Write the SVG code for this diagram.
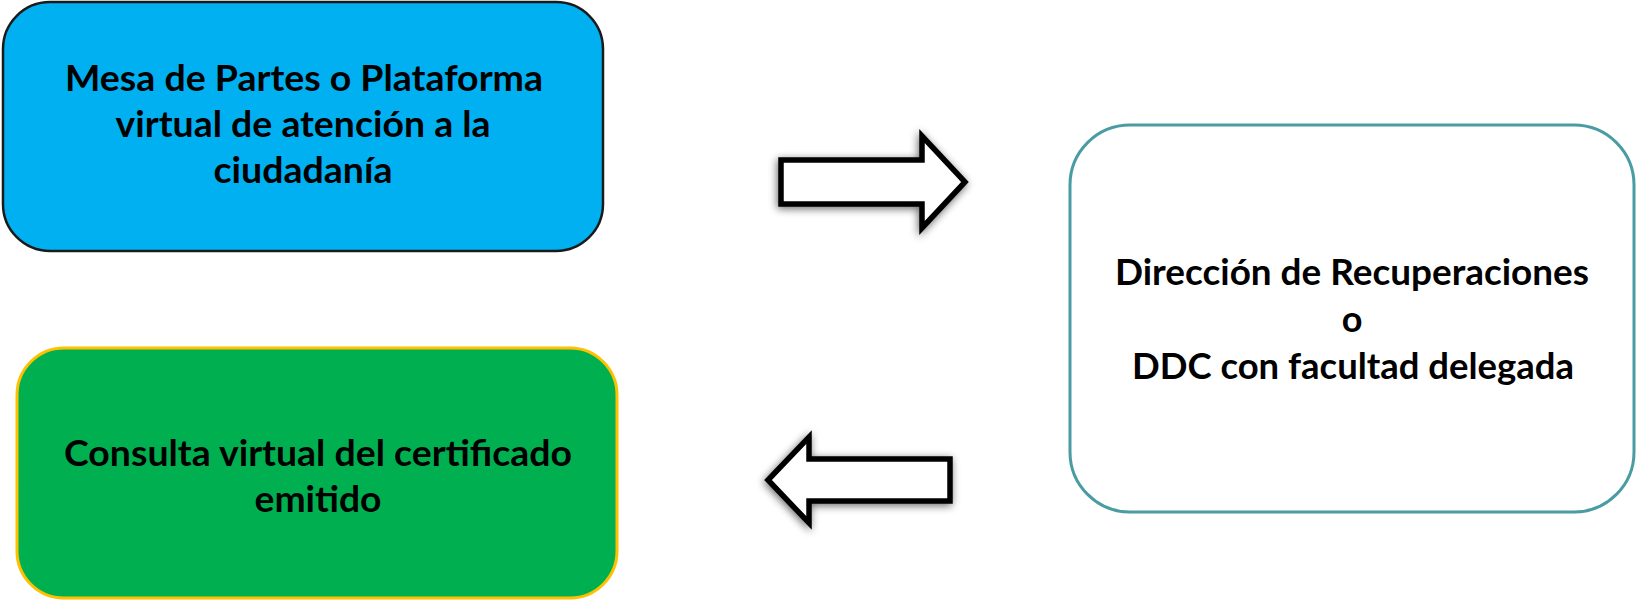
<svg xmlns="http://www.w3.org/2000/svg" width="1640" height="606" viewBox="0 0 1640 606">
<style>
  .lbl { font-family: Lato, "Open Sans", "Liberation Sans", sans-serif; font-weight: bold; font-size: 36px; fill: #000; text-anchor: middle; }
  .arrow { fill: #ffffff; stroke: #000000; stroke-width: 5.5; stroke-linejoin: miter; filter: url(#shadow); }
</style>
<defs>
  <filter id="shadow" x="-20%" y="-30%" width="140%" height="160%">
    <feGaussianBlur in="SourceAlpha" stdDeviation="4"/>
    <feOffset dx="-1" dy="2" result="b"/>
    <feComponentTransfer><feFuncA type="linear" slope="0.6"/></feComponentTransfer>
    <feMerge><feMergeNode/><feMergeNode in="SourceGraphic"/></feMerge>
  </filter>
</defs>
<rect width="1640" height="606" fill="#ffffff"/>
<g id="node-mesa">
  <rect x="3" y="2" width="600" height="249" rx="47" ry="47" fill="#00B0F0" stroke="#1a1a1a" stroke-width="2.5"/>
  <text class="lbl" x="304" y="91" textLength="478" lengthAdjust="spacingAndGlyphs">Mesa de Partes o Plataforma</text>
  <text class="lbl" x="303" y="137" textLength="375" lengthAdjust="spacingAndGlyphs">virtual de atención a la</text>
  <text class="lbl" x="303" y="183" textLength="179" lengthAdjust="spacingAndGlyphs">ciudadanía</text>
</g>
<g id="node-consulta">
  <rect x="17" y="348" width="600" height="250" rx="47" ry="47" fill="#00B050" stroke="#FFC000" stroke-width="3"/>
  <text class="lbl" x="318" y="466" textLength="508" lengthAdjust="spacingAndGlyphs">Consulta virtual del certificado</text>
  <text class="lbl" x="318" y="512" textLength="127" lengthAdjust="spacingAndGlyphs">emitido</text>
</g>
<g id="node-direccion">
  <rect x="1070" y="125" width="564" height="387" rx="60" ry="60" fill="#ffffff" stroke="#4A9CA3" stroke-width="3"/>
  <text class="lbl" x="1352" y="285" textLength="474" lengthAdjust="spacingAndGlyphs">Dirección de Recuperaciones</text>
  <text class="lbl" x="1352" y="332">o</text>
  <text class="lbl" x="1353" y="379" textLength="442" lengthAdjust="spacingAndGlyphs">DDC con facultad delegada</text>
</g>
<g id="connectors">
  <path class="arrow" d="M781,160 H922 V136 L965,182 L922,228 V204 H781 Z"/>
  <path class="arrow" d="M950,459 H809 V437 L768,480 L809,523 V501 H950 Z"/>
</g>
</svg>
